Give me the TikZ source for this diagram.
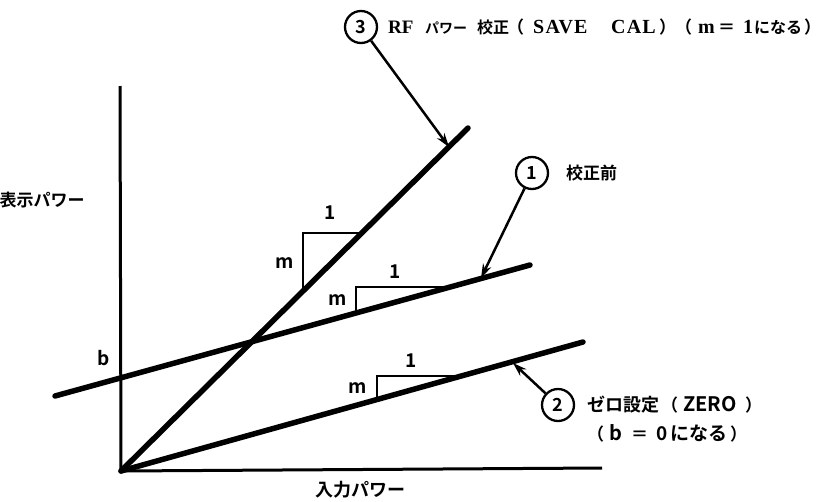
\documentclass[tikz,border=0pt]{standalone}
\usepackage{fontspec}
\setmainfont{Noto Sans CJK JP}[UprightFont=* Bold]
\newfontfamily\latserif{Liberation Serif}[UprightFont=* Bold]
\usetikzlibrary{arrows.meta}
\newcommand{\chunk}[2]{\makebox[#1pt][l]{#2}}
\begin{document}
\begin{tikzpicture}[x=1pt,y=-1pt,
  curve/.style={line width=5.5pt, line cap=round},
  axis/.style={line width=3pt},
  tri/.style={line width=2.8pt, line join=miter},
  lead/.style={line width=2.5pt, -{Stealth[length=14pt,width=9pt]}},
  num/.style={circle, draw, line width=2.3pt, minimum size=32pt, inner sep=0pt, font=\fontsize{18}{18}\selectfont},
  lbl/.style={font=\fontsize{17}{20}\selectfont, anchor=west, inner sep=0pt},
  mk/.style={font=\fontsize{19}{19}\selectfont, inner sep=0pt}]
\useasboundingbox (0,0) rectangle (833,501);
% axes
\coordinate (O) at (121,471);
\coordinate (Ytop) at (120,86);
\coordinate (Xend) at (602,468);
\draw[axis] (Ytop) -- (O) -- (Xend);
% lines
\coordinate (L3b) at (468,128);
\coordinate (L1a) at (55,396);
\coordinate (L1b) at (530,265);
\coordinate (L2b) at (583,342);
\draw[curve] (O) -- (L3b);
\draw[curve] (L1a) -- (L1b);
\draw[curve] (O) -- (L2b);
% slope triangles
\coordinate (T3a) at (303,291);
\coordinate (T3b) at (303,233);
\coordinate (T3c) at (360,233);
\draw[tri] (T3a) -- (T3b) -- (T3c);
\coordinate (T1a) at (356,313);
\coordinate (T1b) at (356,287);
\coordinate (T1c) at (450,287);
\draw[tri] (T1a) -- (T1b) -- (T1c);
\coordinate (T2a) at (377,400);
\coordinate (T2b) at (377,376);
\coordinate (T2c) at (462,376);
\draw[tri] (T2a) -- (T2b) -- (T2c);
\node[mk] (m3) at (285,263) {m};
\node[mk] (one3) at (330,213) {1};
\node[mk] (m1) at (338,300) {m};
\node[mk] (one1) at (395,272) {1};
\node[mk] (m2) at (358,388) {m};
\node[mk] (one2) at (411,361) {1};
\node[mk] (b) at (104,358) {b};
% callouts
\node[num] (c3) at (361,27) {3};
\node[num] (c1) at (532,173) {1};
\node[num] (c2) at (558,405) {2};
\coordinate (t3) at (449,147);
\coordinate (t1) at (481,278);
\coordinate (t2) at (513,363);
\draw[lead] (c3) -- (t3);
\draw[lead] (c1) -- (t1);
\draw[lead] (c2) -- (t2);
% texts
\node[lbl] (txt3) at (388,27) {%
\chunk{37}{\latserif\fontsize{19}{19}\selectfont RF}%
\chunk{52}{\fontsize{14}{14}\selectfont パワー}%
\chunk{30}{\fontsize{16}{16}\selectfont 校正}%
\chunk{26}{（}%
\chunk{78}{\latserif\fontsize{20}{20}\selectfont\addfontfeature{LetterSpace=6}SAVE}%
\chunk{48}{\latserif\fontsize{20}{20}\selectfont\addfontfeature{LetterSpace=6}CAL}%
\chunk{16}{）}%
\chunk{23}{（}%
\chunk{20}{\latserif\fontsize{20}{20}\selectfont m}%
\chunk{25}{＝}%
\chunk{11}{\latserif\fontsize{20}{20}\selectfont 1}%
\chunk{50}{\fontsize{16}{16}\selectfont になる}%
）};
\node[lbl] (txt1) at (566,173) {校正前};
\node[lbl] (txt2) at (587,405) {%
\chunk{74}{\fontsize{18}{18}\selectfont ゼロ設定}%
\chunk{22}{（}%
\chunk{62}{\fontsize{20}{20}\selectfont ZERO}%
）};
\node[lbl] (txt2b) at (587,433) {%
\chunk{22}{（}%
\chunk{22}{\fontsize{20}{20}\selectfont b}%
\chunk{25}{＝}%
\chunk{14}{\fontsize{19}{19}\selectfont 0}%
\chunk{60}{\fontsize{19}{19}\selectfont になる}%
）};
\node[font=\fontsize{17}{17}\selectfont, inner sep=0pt] (ylab) at (42,200) {表示パワー};
\node[font=\fontsize{18}{18}\selectfont, inner sep=0pt] (xlab) at (360,490) {入力パワー};
\end{tikzpicture}
\end{document}
